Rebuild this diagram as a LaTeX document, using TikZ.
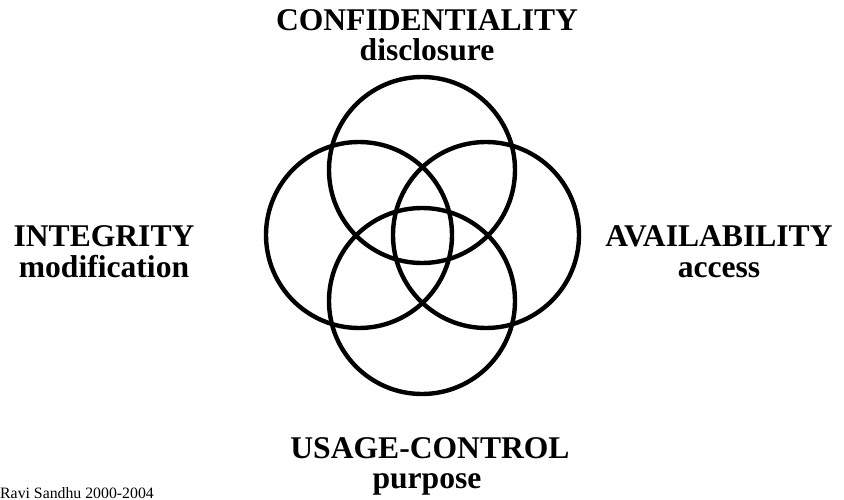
\documentclass[tikz,border=0pt]{standalone}
\usepackage{fontspec}
\setmainfont{Liberation Serif}
\begin{document}
\begin{tikzpicture}[x=1pt,y=-1pt,
  ring/.style={draw=black,line width=4.4pt},
  caplabel/.style={font=\fontsize{31.6}{31.6}\selectfont\bfseries,anchor=base,inner sep=0pt},
  credit/.style={font=\fontsize{15.8}{15.8}\selectfont,anchor=base west,inner sep=0pt}]
\useasboundingbox (0,0) rectangle (844,500);
\clip (0,0) rectangle (844,500);
% circles
\node[ring,circle,minimum size=186pt,inner sep=0pt] (ct) at (422,170) {};
\node[ring,circle,minimum size=186pt,inner sep=0pt] (cl) at (359,235) {};
\node[ring,circle,minimum size=186pt,inner sep=0pt] (cr) at (486,235) {};
\node[ring,circle,minimum size=186pt,inner sep=0pt] (cb) at (422,301) {};
% labels
\node[caplabel] (conf) at (427,31) {CONFIDENTIALITY};
\node[caplabel] (disc) at (427,61) {disclosure};
\node[caplabel] (integ) at (104,247) {INTEGRITY};
\node[caplabel] (modif) at (104,277) {modification};
\node[caplabel] (avail) at (719,247) {AVAILABILITY};
\node[caplabel] (acc) at (719,277) {access};
\node[caplabel] (usage) at (430,458) {USAGE-CONTROL};
\node[caplabel] (purp) at (427,488) {purpose};
\node[credit] (cred) at (0,498) {Ravi Sandhu 2000-2004};
\end{tikzpicture}
\end{document}
